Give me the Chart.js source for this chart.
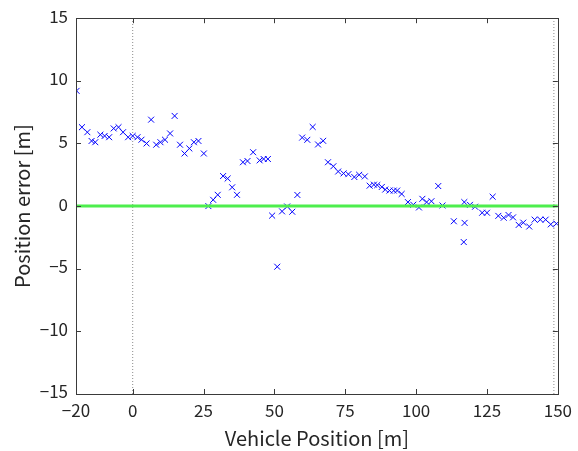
<!DOCTYPE html>
<html>
<head>
<meta charset="utf-8">
<script src="https://cdn.jsdelivr.net/npm/chart.js@4.4.1/dist/chart.umd.min.js"></script>
<style>
  html, body { margin: 0; padding: 0; background: #ffffff; }
  canvas { display: block; }
</style>
</head>
<body>
<canvas id="chart" width="578" height="451"></canvas>
<script>
// Vehicle position along the route [m] and the measured position error [m]
const positions = [
  -19.8, -17.9, -16.0, -14.5, -13.2, -11.4, -9.9, -8.3, -6.7, -5.0,
  -3.4, -1.6, 0.0, 1.7, 3.1, 4.9, 6.5, 8.3, 9.8, 11.4,
  13.2, 14.8, 16.7, 18.3, 20.0, 21.6, 23.2, 25.1, 26.7, 28.4,
  30.0, 31.9, 33.5, 35.1, 36.8, 38.9, 40.5, 42.5, 44.8, 46.2,
  47.7, 49.2, 51.0, 52.7, 54.5, 56.3, 58.1, 59.8, 61.6, 63.5,
  65.4, 67.2, 68.9, 70.8, 72.5, 74.4, 76.1, 78.2, 79.9, 81.9,
  83.6, 85.1, 86.3, 87.9, 89.1, 90.6, 92.1, 93.3, 94.9, 97.1,
  99.0, 101.0, 102.2, 103.7, 105.4, 107.8, 109.3, 113.3, 116.8, 117.1,
  117.0, 119.0, 120.8, 123.3, 125.0, 127.0, 129.0, 130.9, 132.6, 134.2,
  136.2, 137.8, 139.9, 141.8, 143.8, 145.7, 147.5, 149.5
];
const errors = [
  9.2, 6.3, 5.9, 5.2, 5.1, 5.7, 5.6, 5.5, 6.2, 6.3,
  5.9, 5.5, 5.6, 5.5, 5.3, 5.0, 6.9, 4.9, 5.1, 5.3,
  5.8, 7.2, 4.9, 4.2, 4.6, 5.1, 5.2, 4.2, 0.0, 0.5,
  0.9, 2.4, 2.2, 1.5, 0.9, 3.5, 3.6, 4.3, 3.65, 3.76,
  3.76, -0.76, -4.84, -0.42, -0.03, -0.45, 0.89, 5.47, 5.29, 6.32,
  4.92, 5.21, 3.5, 3.18, 2.76, 2.61, 2.55, 2.32, 2.5, 2.37,
  1.63, 1.71, 1.68, 1.53, 1.32, 1.24, 1.24, 1.24, 0.97, 0.32,
  0.11, -0.11, 0.58, 0.32, 0.39, 1.6, 0.05, -1.21, -2.87, -1.34,
  0.32, 0.1, -0.05, -0.53, -0.53, 0.75, -0.78, -0.93, -0.71, -0.9,
  -1.5, -1.32, -1.63, -1.08, -1.08, -1.08, -1.46, -1.4
];
// Zero-error reference line and the section boundaries
const referenceError = 0;
const sectionMarks = [0, 148.6];
const xRange = [-20, 150];
const yRange = [-15, 15];
const xTickValues = [-20, 0, 25, 50, 75, 100, 125, 150];
const yTickValues = [-15, -10, -5, 0, 5, 10, 15];

const FONT = '"Noto Sans CJK JP", "Noto Sans", "DejaVu Sans", sans-serif';
const AXIS_COLOR = '#3a3a3a';
const TEXT_COLOR = '#262626';
const fmt = v => String(v).replace('-', '\u2212');

const scatterData = positions.map((x, i) => ({ x: x, y: errors[i] }));
const referenceData = xRange.map(x => ({ x: x, y: referenceError }));
const markDatasets = sectionMarks.map(x => ({
  type: 'line',
  data: yRange.map(y => ({ x: x, y: y })),
  borderColor: '#8c8c8c',
  borderWidth: 1,
  borderDash: [1, 2],
  pointRadius: 0,
  fill: false,
  order: 3
}));

// Box around the plot area with inward tick marks on all four sides
const boxPlugin = {
  id: 'axesBox',
  afterDatasetsDraw(chart) {
    const { ctx, chartArea: a, scales: { x, y } } = chart;
    const len = 5;
    ctx.save();
    ctx.strokeStyle = AXIS_COLOR;
    ctx.lineWidth = 1;
    ctx.beginPath();
    xTickValues.forEach(v => {
      const px = Math.round(x.getPixelForValue(v)) + 0.5;
      ctx.moveTo(px, a.bottom); ctx.lineTo(px, a.bottom - len);
      ctx.moveTo(px, a.top); ctx.lineTo(px, a.top + len);
    });
    yTickValues.forEach(v => {
      const py = Math.round(y.getPixelForValue(v)) + 0.5;
      ctx.moveTo(a.left, py); ctx.lineTo(a.left + len, py);
      ctx.moveTo(a.right, py); ctx.lineTo(a.right - len, py);
    });
    ctx.stroke();
    ctx.strokeRect(Math.round(a.left) + 0.5, Math.round(a.top) + 0.5,
      Math.round(a.right - a.left), Math.round(a.bottom - a.top));
    ctx.restore();
  }
};

new Chart(document.getElementById('chart'), {
  type: 'scatter',
  data: {
    datasets: [
      {
        type: 'line',
        data: referenceData,
        borderColor: '#4dee4d',
        borderWidth: 3,
        pointRadius: 0,
        fill: false,
        order: 0
      },
      {
        data: scatterData,
        pointStyle: 'crossRot',
        pointRadius: 4.2,
        pointBorderWidth: 1,
        borderColor: '#0000ff',
        backgroundColor: '#0000ff',
        order: 1
      },
      ...markDatasets
    ]
  },
  options: {
    responsive: false,
    animation: false,
    layout: { padding: { left: 0, top: 14, right: 17, bottom: 0 } },
    plugins: { legend: { display: false }, tooltip: { enabled: false } },
    scales: {
      x: {
        type: 'linear',
        min: xRange[0],
        max: xRange[1],
        afterBuildTicks: s => { s.ticks = xTickValues.map(v => ({ value: v })); },
        afterFit: s => { s.height = 57; },
        grid: { display: false, drawTicks: false },
        border: { display: false },
        ticks: {
          padding: 6,
          color: TEXT_COLOR,
          font: { family: FONT, size: 17 },
          maxRotation: 0,
          callback: v => fmt(v)
        },
        title: {
          display: true,
          text: 'Vehicle Position [m]',
          color: TEXT_COLOR,
          font: { family: FONT, size: 20 },
          padding: { top: 0, bottom: 1 }
        }
      },
      y: {
        type: 'linear',
        min: yRange[0],
        max: yRange[1],
        afterBuildTicks: s => { s.ticks = yTickValues.map(v => ({ value: v })); },
        afterFit: s => { s.width = 76; },
        grid: { display: false, drawTicks: false },
        border: { display: false },
        ticks: {
          padding: 8,
          labelOffset: -2,
          color: TEXT_COLOR,
          font: { family: FONT, size: 17 },
          callback: v => fmt(v)
        },
        title: {
          display: true,
          text: 'Position error [m]',
          color: TEXT_COLOR,
          font: { family: FONT, size: 20 },
          padding: { top: 10, bottom: 0 }
        }
      }
    }
  },
  plugins: [boxPlugin]
});
</script>
</body>
</html>
